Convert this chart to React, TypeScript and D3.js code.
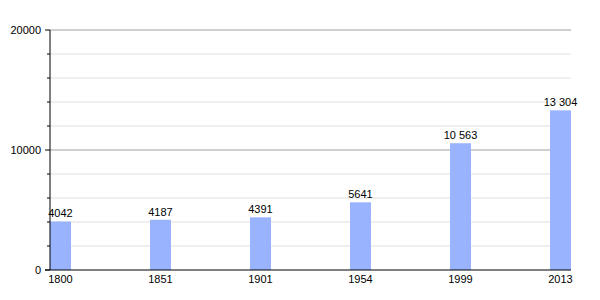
import React from "react";
import * as d3 from "d3";

const years = ["1800", "1851", "1901", "1954", "1999", "2013"];
const populations = [4042, 4187, 4391, 5641, 10563, 13304];
const valueLabels = ["4042", "4187", "4391", "5641", "10 563", "13 304"];
const majorTicks = [0, 10000, 20000];
const minorTicks = [2000, 4000, 6000, 8000, 12000, 14000, 16000, 18000];

const W = 600;
const H = 300;
const left = 50;
const right = 571;
const top = 30;
const bottom = 270;
const barW = 21;

export default function App() {
  const x = d3.scaleLinear().domain([0, years.length]).range([left, left + 600]);
  const y = d3.scaleLinear().domain([0, 20000]).range([bottom, top]);
  const font = "'Liberation Sans', Arial, sans-serif";
  return (
    <svg width={W} height={H} style={{ position: "absolute", left: 0, top: 0 }} fontFamily={font} fontSize={11}>
      <rect width={W} height={H} fill="#fff" />
      {minorTicks.map((t) => (
        <g key={"m" + t}>
          <line x1={left} x2={right} y1={y(t)} y2={y(t)} stroke="#e0e0e0" strokeWidth={1} />
          <line x1={left - 3} x2={left} y1={y(t)} y2={y(t)} stroke="#000" strokeWidth={1} />
        </g>
      ))}
      {majorTicks.filter((t) => t > 0).map((t) => (
        <line key={"g" + t} x1={left} x2={right} y1={y(t)} y2={y(t)} stroke="#a0a0a0" strokeWidth={1} />
      ))}
      {populations.map((v, i) => (
        <g key={years[i]}>
          <rect x={x(i)} y={y(v)} width={barW} height={bottom - y(v)} fill="#99b3ff" />
          <text x={x(i) + barW / 2} y={y(v) - 4} textAnchor="middle" fill="#000">
            {valueLabels[i]}
          </text>
          <text x={x(i) + barW / 2} y={bottom + 13} textAnchor="middle" fill="#000">
            {years[i]}
          </text>
        </g>
      ))}
      <line x1={left} x2={left} y1={top} y2={bottom} stroke="#000" strokeWidth={1} />
      <line x1={left - 5} x2={right} y1={bottom} y2={bottom} stroke="#000" strokeWidth={1} />
      {majorTicks.map((t) => (
        <g key={"t" + t}>
          <line x1={left - 5} x2={left} y1={y(t)} y2={y(t)} stroke="#000" strokeWidth={1} />
          <text x={left - 9} y={y(t) + 4} textAnchor="end" fill="#000">
            {t}
          </text>
        </g>
      ))}
    </svg>
  );
}
